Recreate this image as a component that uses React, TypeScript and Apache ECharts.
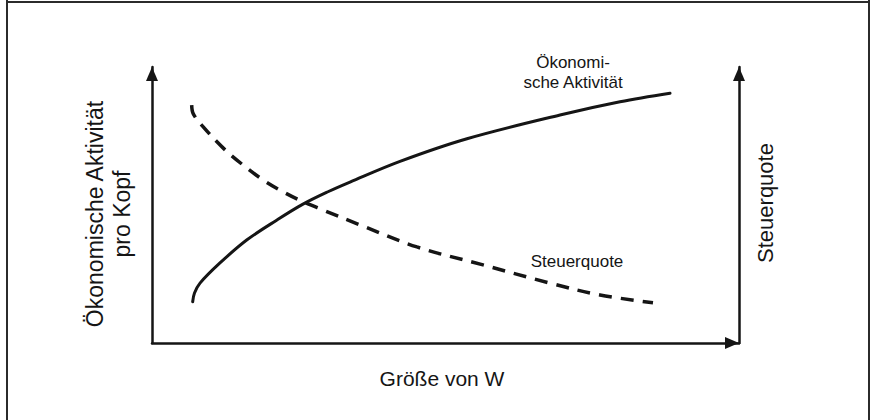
import React, { useEffect, useRef } from "react";
import * as echarts from "echarts";

// Ökonomische Aktivität pro Kopf (left axis)
const activityX = [6.93, 7.24, 8.18, 11.58, 16.13, 21.24, 25.72, 29.98, 33.73, 42.25, 53.66, 69.51, 79.73, 88.25];
const activityY = [14.96, 18.1, 21.7, 29.0, 37.3, 44.5, 50.3, 54.8, 58.3, 65.8, 74.0, 82.6, 87.4, 90.5];

// Steuerquote (right axis)
const taxX = [6.76, 7.04, 8.69, 12.1, 15.5, 18.91, 22.32, 25.72, 29.13, 35.43, 45.14, 56.39, 67.8, 76.32, 85.35];
const taxY = [86.2, 83.0, 78.4, 70.7, 64.5, 59.1, 54.8, 51.2, 48.2, 42.8, 34.8, 28.3, 21.7, 17.4, 14.6];

const seriesNames = ["Ökonomische Aktivität", "Steuerquote"];
const leftAxisName = "Ökonomische Aktivität\npro Kopf";
const rightAxisName = "Steuerquote";
const xAxisName = "Größe von W";
const curveLabelActivity = "Ökonomi-\nsche Aktivität";
const curveLabelTax = "Steuerquote";

const FONT = "'Liberation Sans', Arial, Helvetica, sans-serif";
const INK = "#151515";

export default function App() {
  const ref = useRef<HTMLDivElement>(null);

  useEffect(() => {
    if (!ref.current) return;
    const chart = echarts.init(ref.current, undefined, { renderer: "svg" });

    const axisLine = {
      show: true,
      onZero: false,
      lineStyle: { color: INK, width: 2.5 },
      symbol: ["none", "triangle"],
      symbolSize: [12, 14],
      symbolOffset: [0, -7],
    };
    const hidden = {
      axisTick: { show: false },
      axisLabel: { show: false },
      splitLine: { show: false },
    };

    chart.setOption({
      animation: false,
      backgroundColor: "#ffffff",
      textStyle: { fontFamily: FONT },
      grid: { left: 152, right: 133, top: 67, bottom: 77 },
      xAxis: { type: "value", min: 0, max: 100, axisLine, ...hidden },
      yAxis: [
        { type: "value", min: 0, max: 100, position: "left", axisLine, ...hidden },
        { type: "value", min: 0, max: 100, position: "right", axisLine, ...hidden },
      ],
      series: [
        {
          name: seriesNames[0],
          type: "line",
          yAxisIndex: 0,
          data: activityX.map((x, i) => [x, activityY[i]]),
          showSymbol: false,
          smooth: 0.35,
          lineStyle: { color: INK, width: 3, cap: "round" },
        },
        {
          name: seriesNames[1],
          type: "line",
          yAxisIndex: 1,
          data: taxX.map((x, i) => [x, taxY[i]]),
          showSymbol: false,
          smooth: 0.35,
          lineStyle: { color: INK, width: 3.5, type: [13, 9] },
        },
      ],
      graphic: [
        { type: "line", shape: { x1: 7, y1: 0, x2: 7, y2: 420 }, style: { stroke: "#2b2b2b", lineWidth: 2 } },
        { type: "line", shape: { x1: 6, y1: 2, x2: 870, y2: 2 }, style: { stroke: "#2b2b2b", lineWidth: 2 } },
        { type: "line", shape: { x1: 869, y1: 0, x2: 869, y2: 420 }, style: { stroke: "#2b2b2b", lineWidth: 2 } },
        {
          type: "text",
          x: 108,
          y: 214,
          rotation: Math.PI / 2,
          style: {
            text: leftAxisName,
            font: `23px ${FONT}`,
            fill: INK,
            align: "center",
            verticalAlign: "middle",
            lineHeight: 27,
          },
        },
        {
          type: "text",
          x: 765,
          y: 203,
          rotation: Math.PI / 2,
          style: {
            text: rightAxisName,
            font: `22px ${FONT}`,
            fill: INK,
            align: "center",
            verticalAlign: "middle",
          },
        },
        {
          type: "text",
          x: 442,
          y: 378,
          style: {
            text: xAxisName,
            font: `21px ${FONT}`,
            fill: INK,
            align: "center",
            verticalAlign: "middle",
          },
        },
        {
          type: "text",
          x: 573,
          y: 72,
          style: {
            text: curveLabelActivity,
            font: `17px ${FONT}`,
            fill: INK,
            align: "center",
            verticalAlign: "middle",
            lineHeight: 20,
          },
        },
        {
          type: "text",
          x: 577,
          y: 261,
          style: {
            text: curveLabelTax,
            font: `17px ${FONT}`,
            fill: INK,
            align: "center",
            verticalAlign: "middle",
          },
        },
      ],
    });

    return () => chart.dispose();
  }, []);

  return (
    <div
      ref={ref}
      style={{ position: "fixed", left: 0, top: 0, width: 872, height: 420, background: "#fff" }}
    />
  );
}
